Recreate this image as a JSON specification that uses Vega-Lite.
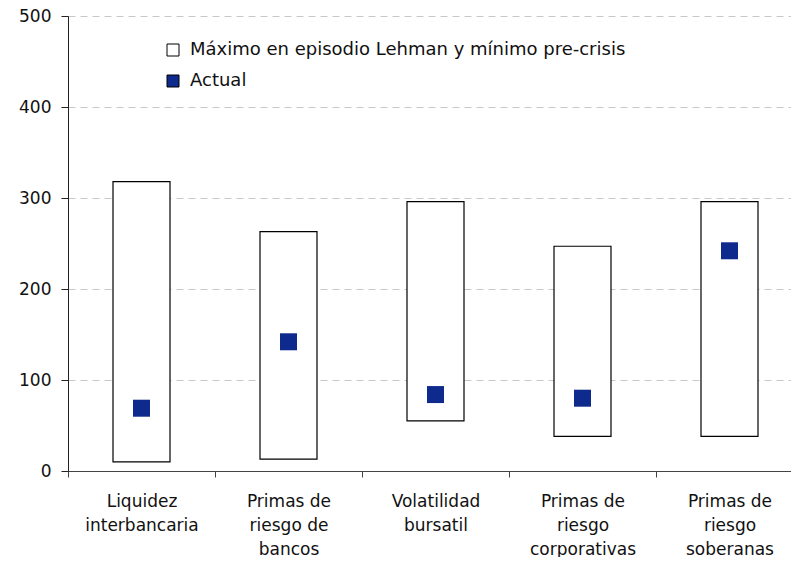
{
  "$schema": "https://vega.github.io/schema/vega-lite/v6.json",
  "width": 735,
  "height": 455,
  "padding": {"left": 18, "top": 7, "right": 0, "bottom": 0},
  "background": "white",
  "config": {
    "view": {"stroke": null},
    "font": "DejaVu Sans",
    "axis": {"labelFont": "DejaVu Sans", "labelFontSize": 17, "labelColor": "#111"},
    "legend": {"labelFont": "DejaVu Sans", "labelFontSize": 18, "labelColor": "#111"}
  },
  "data": {
    "values": [
      {"categoria": "Liquidez|interbancaria", "min": 10, "max": 318, "actual": 69},
      {"categoria": "Primas de|riesgo de|bancos", "min": 13, "max": 263, "actual": 142},
      {"categoria": "Volatilidad|bursatil", "min": 55, "max": 296, "actual": 84},
      {"categoria": "Primas de|riesgo|corporativas", "min": 38, "max": 247, "actual": 80},
      {"categoria": "Primas de|riesgo|soberanas", "min": 38, "max": 296, "actual": 242}
    ]
  },
  "encoding": {
    "x": {
      "field": "categoria",
      "type": "nominal",
      "sort": null,
      "scale": {"paddingInner": 0, "paddingOuter": 0},
      "axis": {
        "title": null,
        "labelAngle": 0,
        "labelExpr": "split(datum.label, '|')",
        "labelLineHeight": 24,
        "labelPadding": 16,
        "tickBand": "extent",
        "tickSize": 6,
        "tickColor": "#444",
        "domainColor": "#444",
        "labelBaseline": "top"
      }
    }
  },
  "layer": [
    {
      "mark": {"type": "bar", "width": 57, "stroke": "black", "strokeWidth": 1.2},
      "encoding": {
        "y": {
          "field": "max",
          "type": "quantitative",
          "scale": {"domain": [0, 500], "nice": false},
          "axis": {
            "title": null,
            "values": [0, 100, 200, 300, 400, 500],
            "grid": true,
            "gridDash": [7, 5],
            "gridColor": "#c8c8c8",
            "domainColor": "#222",
            "tickColor": "#222",
            "tickSize": 7,
            "labelPadding": 10
          }
        },
        "y2": {"field": "min"},
        "color": {
          "datum": "Máximo en episodio Lehman y mínimo pre-crisis",
          "type": "nominal",
          "scale": {
            "domain": ["Máximo en episodio Lehman y mínimo pre-crisis", "Actual"],
            "range": ["white", "#0E2A8C"]
          },
          "legend": {
            "title": null,
            "orient": "none",
            "legendX": 96,
            "legendY": 25,
            "symbolType": "square",
            "symbolSize": 144,
            "symbolOpacity": 1,
            "rowPadding": 13,
            "labelOffset": 8,
            "labelLimit": 0,
            "symbolStrokeWidth": 1,
            "encode": {
              "symbols": {
                "update": {
                  "stroke": {"signal": "datum.value === 'Actual' ? '#0E2A8C' : 'black'"},
                  "fillOpacity": {"value": 1}
                }
              }
            }
          }
        }
      }
    },
    {
      "mark": {"type": "square", "size": 289, "opacity": 1},
      "encoding": {
        "y": {"field": "actual", "type": "quantitative"},
        "color": {"datum": "Actual", "type": "nominal"}
      }
    }
  ]
}
